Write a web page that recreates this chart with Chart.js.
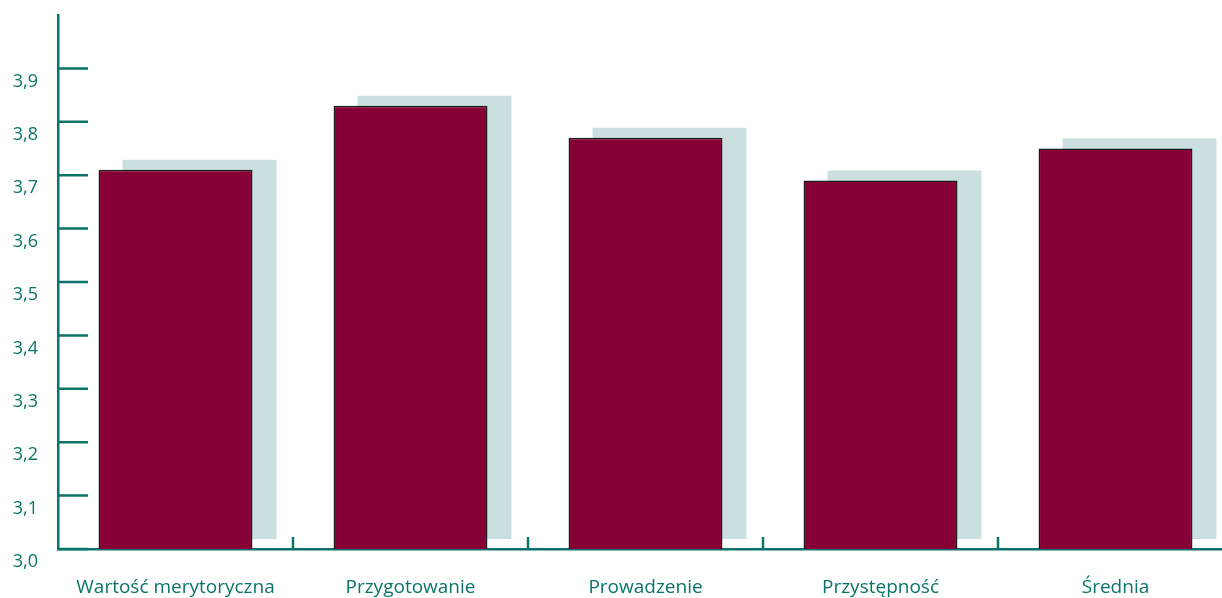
<!DOCTYPE html>
<html>
<head>
<meta charset="utf-8">
<script src="https://cdn.jsdelivr.net/npm/chart.js@4/dist/chart.umd.min.js"></script>
<style>
  html, body { margin: 0; padding: 0; background: #ffffff; }
  #wrap { width: 1222px; height: 598px; overflow: hidden; position: relative; }
  canvas { display: block; }
</style>
</head>
<body>
<div id="wrap"><canvas id="chart" width="1233" height="598"></canvas></div>
<script>
// Ratings per category (scale 3,0 – 4,0)
const categories = ['Wartość merytoryczna', 'Przygotowanie', 'Prowadzenie', 'Przystępność', 'Średnia'];
const scores = [3.71, 3.83, 3.77, 3.69, 3.75];
const yTickValues = [3.0, 3.1, 3.2, 3.3, 3.4, 3.5, 3.6, 3.7, 3.8, 3.9];

const TEAL = '#0b7469';
const BAR = '#860036';
const SHADOW = '#c9dfe0';

// Offset block shadow behind each bar, placed from the bar element geometry
const barShadow = {
  id: 'barShadow',
  beforeDatasetsDraw(chart) {
    const ctx = chart.ctx;
    const area = chart.chartArea;
    const meta = chart.getDatasetMeta(0);
    ctx.save();
    ctx.fillStyle = SHADOW;
    meta.data.forEach(bar => {
      const w = bar.width;
      const bottom = Math.min(bar.base, area.bottom);
      ctx.fillRect(bar.x - w / 2 + 24, bar.y - 10, w, bottom - bar.y);
    });
    ctx.restore();
  }
};

// Tick marks drawn on the inner side of both axes
const innerTicks = {
  id: 'innerTicks',
  beforeDatasetsDraw(chart) {
    const ctx = chart.ctx;
    const y = chart.scales.y;
    const x = chart.scales.x;
    const area = chart.chartArea;
    ctx.save();
    ctx.strokeStyle = TEAL;
    ctx.lineWidth = 2.5;
    ctx.beginPath();
    yTickValues.forEach(v => {
      const py = y.getPixelForValue(v);
      ctx.moveTo(area.left, py);
      ctx.lineTo(area.left + 30, py);
    });
    for (let i = 1; i < categories.length; i++) {
      const px = (x.getPixelForValue(i - 1) + x.getPixelForValue(i)) / 2;
      ctx.moveTo(px, area.bottom);
      ctx.lineTo(px, area.bottom - 12);
    }
    ctx.stroke();
    ctx.restore();
  }
};

new Chart(document.getElementById('chart'), {
  type: 'bar',
  data: {
    labels: categories,
    datasets: [{
      data: scores,
      backgroundColor: BAR,
      borderColor: '#1e1a1c',
      borderWidth: 1.5,
      borderSkipped: false,
      barPercentage: 0.655,
      categoryPercentage: 1.0
    }]
  },
  options: {
    responsive: false,
    animation: false,
    devicePixelRatio: 1,
    layout: { padding: { top: 15, left: 0, right: 0, bottom: 0 } },
    plugins: {
      legend: { display: false },
      tooltip: { enabled: false }
    },
    scales: {
      x: {
        grid: { display: false, drawTicks: false },
        border: { display: true, color: TEAL, width: 2.5 },
        ticks: {
          color: TEAL,
          padding: 27,
          font: { family: 'Open Sans', size: 19 },
          maxRotation: 0,
          autoSkip: false
        },
        afterFit(scale) { scale.height = 49; }
      },
      y: {
        min: 3.0,
        max: 4.0,
        grid: { display: false, drawTicks: false },
        border: { display: true, color: TEAL, width: 2.5 },
        afterBuildTicks(scale) {
          scale.ticks = yTickValues.concat([4.0]).map(v => ({ value: v }));
        },
        ticks: {
          color: TEAL,
          padding: 20,
          labelOffset: 13,
          font: { family: 'Open Sans', size: 18 },
          callback(value) {
            return value >= 4 ? '' : value.toFixed(1).replace('.', ',');
          }
        },
        afterFit(scale) {
          scale.width = 58;
          scale.paddingTop = 0;
          scale.paddingBottom = 0;
        }
      }
    }
  },
  plugins: [barShadow, innerTicks]
});
</script>
</body>
</html>
